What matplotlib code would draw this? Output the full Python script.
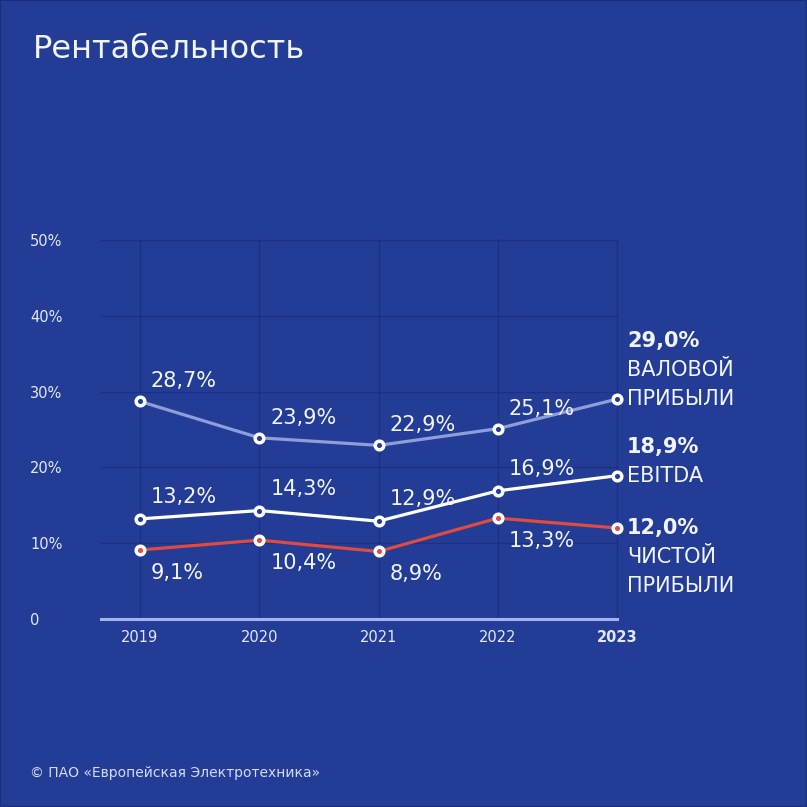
#!/usr/bin/env python3
"""График рентабельности: валовая, EBITDA и чистая прибыль, 2019-2023."""

import matplotlib

matplotlib.use("Agg")
import matplotlib.pyplot as plt
from matplotlib.patches import Rectangle

# Данные
years = [2019, 2020, 2021, 2022, 2023]
year_labels = ["2019", "2020", "2021", "2022", "2023"]
gross_margin = [28.7, 23.9, 22.9, 25.1, 29.0]
ebitda_margin = [13.2, 14.3, 12.9, 16.9, 18.9]
net_margin = [9.1, 10.4, 8.9, 13.3, 12.0]
y_ticks = [0, 10, 20, 30, 40, 50]
y_tick_labels = ["0", "10%", "20%", "30%", "40%", "50%"]

title = "Рентабельность"
copyright_text = "© ПАО «Европейская Электротехника»"
gross_name = ["ВАЛОВОЙ", "ПРИБЫЛИ"]
ebitda_name = ["EBITDA"]
net_name = ["ЧИСТОЙ", "ПРИБЫЛИ"]

# Цвета
BG = "#233d96"
GRID = "#1b3086"
AXIS = "#a3b3ef"
TEXT = "#f2f4fc"
TICK = "#e2e7f8"
GROSS = "#8e9ddb"
EBITDA = "#ffffff"
NET = "#e04a3f"


def fmt(v):
    return f"{v:.1f}".replace(".", ",") + "%"


def draw_series(ax, values, color, face, label_dy):
    ax.plot(years, values, color=color, lw=2.3, zorder=3,
            solid_capstyle="round", clip_on=False)
    ax.plot(years, values, ls="none", marker="o", ms=6.2, mew=2.5,
            mec="white", mfc=face, zorder=4, clip_on=False)
    # подписи значений (кроме последнего года)
    for x, v in zip(years[:-1], values[:-1]):
        ax.annotate(fmt(v), (x, v), xytext=(11, label_dy),
                    textcoords="offset pixels", ha="left", va="center",
                    fontsize=15, color=TEXT, zorder=5)


def draw_end_label(ax, value, lines, first_dy):
    """Подпись справа: жирное значение + название."""
    items = [(fmt(value), "bold")] + [(t, "normal") for t in lines]
    for i, (txt, weight) in enumerate(items):
        ax.annotate(txt, (years[-1], value), xytext=(10, first_dy - 29 * i),
                    textcoords="offset pixels", ha="left", va="center",
                    fontsize=15, fontweight=weight, color=TEXT,
                    annotation_clip=False)


def main():
    plt.rcParams["font.family"] = ["DejaVu Sans"]
    fig = plt.figure(figsize=(8.07, 8.07), dpi=100, facecolor=BG)
    ax = fig.add_axes([0.125, 0.233, 0.6396, 0.4697])
    ax.set_facecolor(BG)

    ax.set_xlim(2018.672, 2023)
    ax.set_ylim(0, 50)

    # сетка
    for y in y_ticks[1:]:
        ax.axhline(y, color=GRID, lw=1.0, zorder=1, clip_on=False)
    for x in years:
        ax.axvline(x, color=GRID, lw=1.0, zorder=1, clip_on=False)
    ax.axhline(0, color=AXIS, lw=2.2, zorder=2, clip_on=False)

    for s in ax.spines.values():
        s.set_visible(False)

    ax.set_yticks(y_ticks)
    ax.set_yticklabels(y_tick_labels)
    ax.set_xticks(years)
    ax.set_xticklabels(year_labels)
    ax.tick_params(length=0, labelsize=10.5, colors=TICK)
    ax.tick_params(axis="x", pad=8)
    # подписи оси Y выровнены по левому краю на x=30px
    ax.tick_params(axis="y", pad=51)
    for lbl in ax.get_yticklabels():
        lbl.set_horizontalalignment("left")
    ax.get_xticklabels()[-1].set_fontweight("bold")

    draw_series(ax, gross_margin, GROSS, BG, 20)
    draw_series(ax, ebitda_margin, EBITDA, BG, 22)
    draw_series(ax, net_margin, NET, NET, -23)

    draw_end_label(ax, gross_margin[-1], gross_name, 58)
    draw_end_label(ax, ebitda_margin[-1], ebitda_name, 29)
    draw_end_label(ax, net_margin[-1], net_name, 0)

    fig.text(33 / 807, 1 - 50 / 807, title, fontsize=23, color=TEXT,
             ha="left", va="center")
    fig.text(30 / 807, 1 - 773 / 807, copyright_text, fontsize=10,
             color="#d3daf4", ha="left", va="center")

    # тонкая рамка по краю
    fig.patches.append(Rectangle((0, 0), 1, 1, transform=fig.transFigure,
                                 fill=False, ec="#1a2e7c", lw=1.5))

    fig.savefig("out.png", dpi=100, facecolor=BG)


if __name__ == "__main__":
    main()
